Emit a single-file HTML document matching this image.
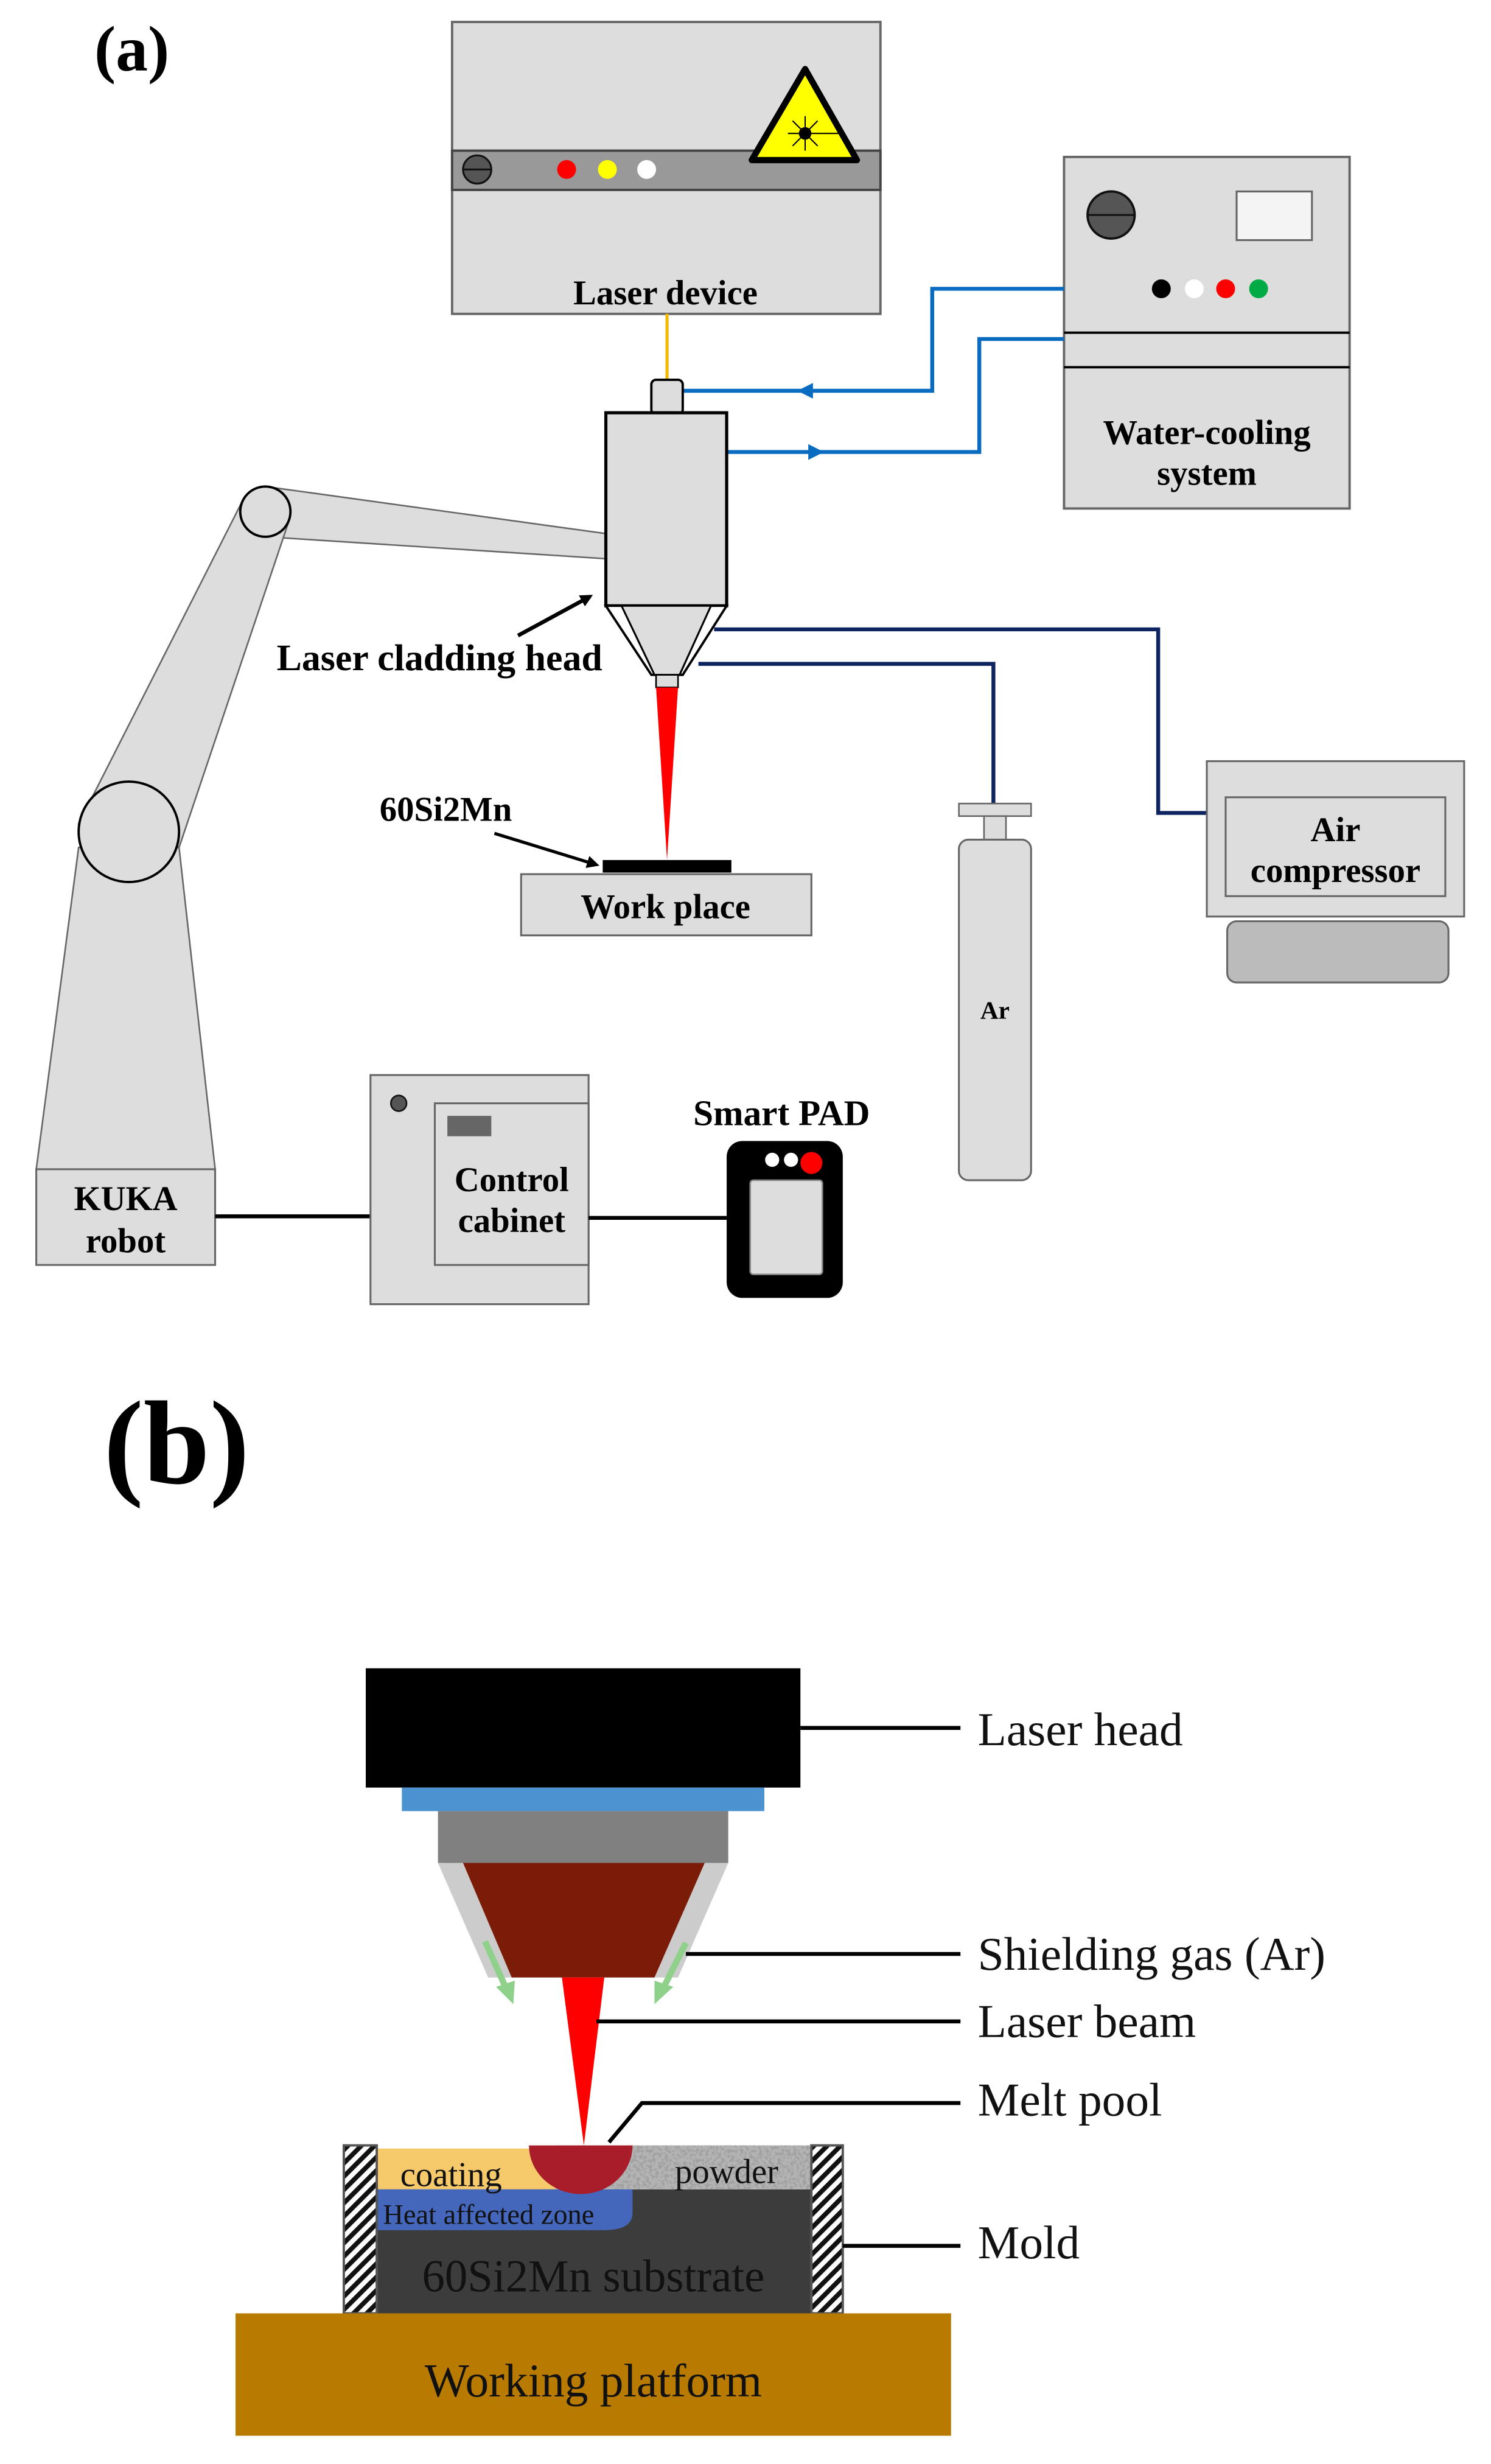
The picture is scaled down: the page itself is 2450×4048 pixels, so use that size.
<!DOCTYPE html>
<html><head><meta charset="utf-8"><style>html,body{margin:0;padding:0;background:#fff}svg{display:block}</style></head>
<body>
<svg width="2450" height="4048" viewBox="0 0 950 1570" xmlns="http://www.w3.org/2000/svg" font-family="Liberation Serif, serif">
<defs>
<filter id="spk" x="0" y="0" width="100%" height="100%">
<feTurbulence type="fractalNoise" baseFrequency="0.5" numOctaves="3" seed="3"/>
<feColorMatrix type="matrix" values="0 0 0 0 0.35  0 0 0 0 0.35  0 0 0 0 0.35  0 0 0 -4 2.3"/>
</filter>
<pattern id="hatch" width="6" height="6" patternUnits="userSpaceOnUse" patternTransform="rotate(-45)">
<rect width="6" height="6" fill="#fff"/><rect width="6" height="3" fill="#111"/>
</pattern>
<marker id="ar" markerWidth="8" markerHeight="8" refX="6" refY="4" orient="auto" markerUnits="userSpaceOnUse"><path d="M0,0 L8,4 L0,8 z" fill="#000"/></marker>
</defs>
<rect width="950" height="1570" fill="#fff"/>
<text x="60" y="45" font-size="41" font-weight="bold">(a)</text>

<rect x="288" y="14" width="273" height="186" fill="#ddd" stroke="#666" stroke-width="1.5"/>
<rect x="288" y="96" width="273" height="25" fill="#999" stroke="#444" stroke-width="1.5"/>
<circle cx="304" cy="108" r="9" fill="#555" stroke="#111" stroke-width="1.2"/><line x1="295" y1="108" x2="313" y2="108" stroke="#111" stroke-width="1.2"/>
<circle cx="361" cy="108" r="6" fill="#f00"/><circle cx="387" cy="108" r="6" fill="#ff0"/><circle cx="412" cy="108" r="6" fill="#fff"/>
<polygon points="513,44 546,102 479,102" fill="#ff0" stroke="#000" stroke-width="4" stroke-linejoin="round"/>
<circle cx="513" cy="85" r="4" fill="#000"/>
<g stroke="#000" stroke-width="0.8"><line x1="502" y1="85" x2="524" y2="85"/><line x1="513" y1="74" x2="513" y2="96"/><line x1="505" y1="77" x2="521" y2="93"/><line x1="521" y1="77" x2="505" y2="93"/><line x1="524" y1="85" x2="536" y2="85"/></g>
<text x="424" y="194" font-size="22" font-weight="bold" text-anchor="middle">Laser device</text>
<line x1="425" y1="200" x2="425" y2="242" stroke="#f5b800" stroke-width="2"/>

<rect x="678" y="100" width="182" height="224" fill="#ddd" stroke="#666" stroke-width="1.5"/>
<line x1="678" y1="212" x2="860" y2="212" stroke="#000" stroke-width="1.5"/>
<line x1="678" y1="234" x2="860" y2="234" stroke="#000" stroke-width="1.5"/>
<circle cx="708" cy="137" r="15" fill="#555" stroke="#111" stroke-width="1.5"/><line x1="693" y1="137" x2="723" y2="137" stroke="#111" stroke-width="1.2"/>
<rect x="788" y="122" width="48" height="31" fill="#f4f4f4" stroke="#666" stroke-width="1.2"/>
<circle cx="740" cy="184" r="6" fill="#000"/><circle cx="761" cy="184" r="6" fill="#fff"/><circle cx="781" cy="184" r="6" fill="#f00"/><circle cx="802" cy="184" r="6" fill="#0a4"/>
<text x="769" y="283" font-size="22" font-weight="bold" text-anchor="middle">Water-cooling</text>
<text x="769" y="309" font-size="22" font-weight="bold" text-anchor="middle">system</text>
<g fill="none" stroke="#0a6cc0" stroke-width="2.5">
<polyline points="678,184 594,184 594,249 435,249"/>
<polyline points="678,216 624,216 624,288 463,288"/>
</g>
<polygon points="508,249 518,244 518,254" fill="#0a6cc0"/>
<polygon points="525,288 515,283 515,293" fill="#0a6cc0"/>

<g fill="none" stroke="#0d2460" stroke-width="2.5">
<polyline points="455,401 738,401 738,518 781,518"/>
<polyline points="445,423 633,423 633,512"/>
</g>

<polygon points="169,310 386,340 386,356 169,342" fill="#ddd" stroke="#666" stroke-width="1"/>
<polygon points="154,320 184,332 114,540 50,525" fill="#ddd" stroke="#666" stroke-width="1"/>
<circle cx="169" cy="326" r="16" fill="#ddd" stroke="#000" stroke-width="1.5"/>
<polygon points="50,540 114,540 137,745 23,745" fill="#ddd" stroke="#666" stroke-width="1"/>
<circle cx="82" cy="530" r="32" fill="#ddd" stroke="#000" stroke-width="1.5"/>
<rect x="23" y="745" width="114" height="61" fill="#ddd" stroke="#666" stroke-width="1.2"/>
<text x="80" y="771" font-size="22" font-weight="bold" text-anchor="middle">KUKA</text>
<text x="80" y="798" font-size="22" font-weight="bold" text-anchor="middle">robot</text>

<rect x="415" y="242" width="20" height="22" rx="3" fill="#ddd" stroke="#000" stroke-width="1.5"/>
<rect x="386" y="263" width="77" height="123" fill="#ddd" stroke="#000" stroke-width="2"/>
<polygon points="386,386 463,386 435,430 415,430" fill="#fff" stroke="#000" stroke-width="1.5"/>
<polygon points="396,386 453,386 433,430 417,430" fill="#ddd" stroke="#000" stroke-width="1.2"/>
<rect x="418" y="430" width="14" height="8" fill="#ddd" stroke="#000" stroke-width="1"/>
<polygon points="418,438 432,438 425,548" fill="#f00"/>

<text x="280" y="427" font-size="24" font-weight="bold" text-anchor="middle">Laser cladding head</text>
<line x1="330" y1="405" x2="376" y2="380" stroke="#000" stroke-width="2.5" marker-end="url(#ar)"/>

<rect x="384" y="548" width="82" height="8" fill="#000"/>
<rect x="332" y="557" width="185" height="39" fill="#ddd" stroke="#666" stroke-width="1.2"/>
<text x="424" y="585" font-size="22" font-weight="bold" text-anchor="middle">Work place</text>
<text x="284" y="523" font-size="22" font-weight="bold" text-anchor="middle">60Si2Mn</text>
<line x1="315" y1="531" x2="380" y2="551" stroke="#000" stroke-width="2" marker-end="url(#ar)"/>

<rect x="611" y="512" width="46" height="8" fill="#ddd" stroke="#666" stroke-width="1"/>
<rect x="627" y="520" width="14" height="15" fill="#ddd" stroke="#666" stroke-width="1"/>
<rect x="611" y="535" width="46" height="217" rx="6" fill="#ddd" stroke="#666" stroke-width="1.2"/>
<text x="634" y="649" font-size="16" font-weight="bold" text-anchor="middle">Ar</text>

<rect x="769" y="485" width="164" height="99" fill="#ddd" stroke="#666" stroke-width="1.2"/>
<rect x="781" y="508" width="140" height="63" fill="#ddd" stroke="#666" stroke-width="1.2"/>
<text x="851" y="536" font-size="22" font-weight="bold" text-anchor="middle">Air</text>
<text x="851" y="562" font-size="22" font-weight="bold" text-anchor="middle">compressor</text>
<rect x="782" y="587" width="141" height="39" rx="6" fill="#bbb" stroke="#666" stroke-width="1.2"/>

<line x1="137" y1="775" x2="236" y2="775" stroke="#000" stroke-width="2.5"/>
<rect x="236" y="685" width="139" height="146" fill="#ddd" stroke="#666" stroke-width="1.2"/>
<rect x="277" y="703" width="98" height="103" fill="#ddd" stroke="#666" stroke-width="1.2"/>
<circle cx="254" cy="703" r="5" fill="#555" stroke="#111"/>
<rect x="285" y="711" width="28" height="13" fill="#666"/>
<text x="326" y="759" font-size="22" font-weight="bold" text-anchor="middle">Control</text>
<text x="326" y="785" font-size="22" font-weight="bold" text-anchor="middle">cabinet</text>
<line x1="375" y1="776" x2="463" y2="776" stroke="#000" stroke-width="2.5"/>

<text x="498" y="717" font-size="23" font-weight="bold" text-anchor="middle">Smart PAD</text>
<rect x="463" y="727" width="74" height="100" rx="10" fill="#000"/>
<rect x="478" y="752" width="46" height="60" rx="2" fill="#ddd" stroke="#888" stroke-width="1"/>
<circle cx="492" cy="739" r="4.5" fill="#fff"/><circle cx="504" cy="739" r="4.5" fill="#fff"/><circle cx="517" cy="741" r="7" fill="#f00"/>

<text x="66" y="945" font-size="76" font-weight="bold">(b)</text>
<rect x="233" y="1063" width="277" height="76" fill="#000"/>
<rect x="256" y="1139" width="231" height="15" fill="#4a92d0"/>
<rect x="279" y="1154" width="185" height="33" fill="#808080"/>
<polygon points="279,1187 295,1187 326,1260 311,1260" fill="#ccc"/>
<polygon points="449,1187 464,1187 432,1260 417,1260" fill="#ccc"/>
<polygon points="295,1187 449,1187 417,1260 326,1260" fill="#7a1c08"/>
<g stroke="#8fd18b" stroke-width="4" fill="#8fd18b">
<line x1="309" y1="1237" x2="322" y2="1266"/>
<line x1="437" y1="1238" x2="423" y2="1266"/>
</g>
<polygon points="316,1266 328,1262 327,1277" fill="#8fd18b"/>
<polygon points="417,1262 429,1266 417,1277" fill="#8fd18b"/>
<polygon points="358,1260 385,1260 372,1367" fill="#f00"/>

<rect x="240" y="1395" width="277" height="79" fill="#3c3c3c"/>
<rect x="240" y="1369" width="114" height="26" fill="#f6c96a"/>
<rect x="354" y="1367" width="163" height="28" fill="#b4b4b4"/>
<rect x="354" y="1367" width="163" height="28" filter="url(#spk)"/>
<path d="M240,1395 H403 V1410 Q403,1421 385,1421 H240 Z" fill="#4466bb"/>
<path d="M337,1367 A33,31 0 0 0 403,1367 Z" fill="#a91c2a"/>
<rect x="219" y="1367" width="21" height="107" fill="url(#hatch)" stroke="#555" stroke-width="1.5"/>
<rect x="517" y="1367" width="20" height="107" fill="url(#hatch)" stroke="#555" stroke-width="1.5"/>
<rect x="150" y="1474" width="456" height="78" fill="#b97a00"/>

<text x="255" y="1393" font-size="22" fill="#111">coating</text>
<text x="430" y="1391" font-size="22" fill="#111">powder</text>
<text x="244" y="1417" font-size="18" fill="#111">Heat affected zone</text>
<text x="378" y="1460" font-size="29" fill="#111" text-anchor="middle">60Si2Mn substrate</text>
<text x="378" y="1527" font-size="30" fill="#111" text-anchor="middle">Working platform</text>

<g stroke="#000" stroke-width="2.5" fill="none">
<line x1="510" y1="1101" x2="612" y2="1101"/>
<line x1="437" y1="1245" x2="612" y2="1245"/>
<line x1="380" y1="1288" x2="612" y2="1288"/>
<polyline points="388,1365 409,1340 612,1340"/>
<line x1="537" y1="1431" x2="612" y2="1431"/>
</g>
<g font-size="30" fill="#111">
<text x="623" y="1112">Laser head</text>
<text x="623" y="1255">Shielding gas (Ar)</text>
<text x="623" y="1298">Laser beam</text>
<text x="623" y="1348">Melt pool</text>
<text x="623" y="1439">Mold</text>
</g>
</svg>
</body></html>
